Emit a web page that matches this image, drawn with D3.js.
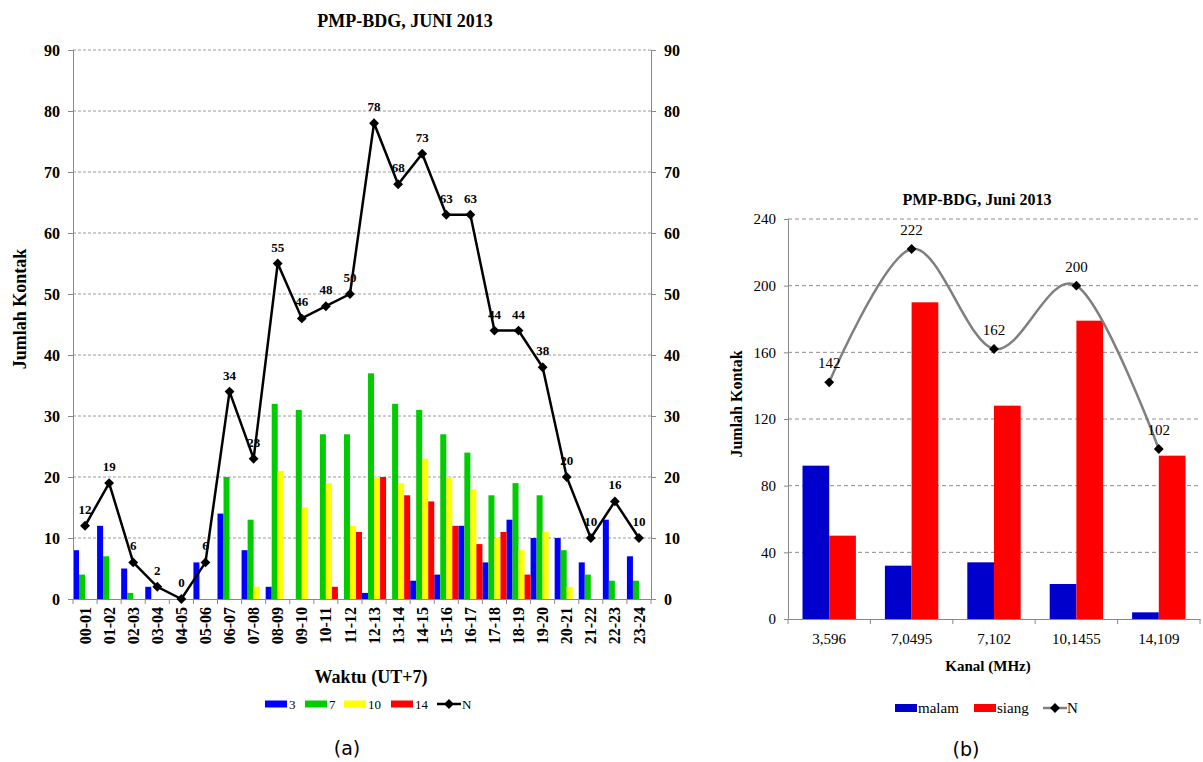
<!DOCTYPE html>
<html>
<head>
<meta charset="utf-8">
<script src="https://cdn.jsdelivr.net/npm/d3@7"></script>
<style>
  body { margin: 0; background: #fff; }
  svg { display: block; }
</style>
</head>
<body>
<div id="chart"></div>
<script>
// ---- data, chart (a): contacts per hour, per band ----
var hours = ["00-01","01-02","02-03","03-04","04-05","05-06","06-07","07-08","08-09","09-10","10-11","11-12",
             "12-13","13-14","14-15","15-16","16-17","17-18","18-19","19-20","20-21","21-22","22-23","23-24"]
var band3  = [8,12,5,2,0,6,14,8,2,0,0,0,1,0,3,4,12,6,13,10,10,6,13,7]
var band7  = [4,7,1,0,0,0,20,13,32,31,27,27,37,32,31,27,24,17,19,17,8,4,3,3]
var band10 = [0,0,0,0,0,0,0,2,21,15,19,12,20,19,23,20,18,10,8,11,2,0,0,0]
var band14 = [0,0,0,0,0,0,0,0,0,0,2,11,20,17,16,12,9,11,4,0,0,0,0,0]
var totalN = [12,19,6,2,0,6,34,23,55,46,48,50,78,68,73,63,63,44,44,38,20,10,16,10]
var seriesA = ["3","7","10","14"]
var yTicksA = [0,10,20,30,40,50,60,70,80,90]

// ---- data, chart (b): contacts per channel ----
var kanal = ["3,596","7,0495","7,102","10,1455","14,109"]
var malam = [92,32,34,21,4]
var siang = [50,190,128,179,98]
var totalKanal = [142,222,162,200,102]
var yTicksB = [0,40,80,120,160,200,240]

var d3 = window.d3
var W = 1203, H = 762
var serif = '"Liberation Serif", "Times New Roman", serif'

var svg = d3.select("#chart").append("svg")
    .attr("width", W).attr("height", H)
    .style("font-family", serif)
svg.append("rect").attr("width", W).attr("height", H).attr("fill", "#fff")

var diamond = d3.symbol().type(d3.symbolDiamond2).size(62)

// =============== chart (a) ===============
var colA = {"3": "#0000ff", "7": "#00cc00", "10": "#ffff00", "14": "#ff0000"}
var valsA = {"3": band3, "7": band7, "10": band10, "14": band14}

var aLeft = 73, aRight = 651, aTop = 50, aBottom = 599

var x = d3.scaleBand().domain(hours).range([aLeft, aRight]).padding(0)
var xs = d3.scaleBand().domain(seriesA).range([0, x.bandwidth()]).padding(0)
var y = d3.scaleLinear().domain([0, 90]).range([aBottom, aTop])

var ga = svg.append("g")

// gridlines
ga.append("g").selectAll("line")
  .data(yTicksA.filter(function(d) { return d > 0 }))
  .enter().append("line")
    .attr("x1", aLeft).attr("x2", aRight)
    .attr("y1", function(d) { return y(d) }).attr("y2", function(d) { return y(d) })
    .attr("stroke", "#9a9a9a").attr("stroke-dasharray", "3,2")

// bars
seriesA.forEach(function(s) {
  ga.append("g").selectAll("rect")
    .data(valsA[s].map(function(v, i) { return {h: hours[i], v: v} }).filter(function(d) { return d.v > 0 }))
    .enter().append("rect")
      .attr("x", function(d) { return x(d.h) + xs(s) })
      .attr("width", xs.bandwidth())
      .attr("y", function(d) { return y(d.v) })
      .attr("height", function(d) { return y(0) - y(d.v) })
      .attr("fill", colA[s])
})

// axes
var axL = ga.append("g")
    .attr("transform", "translate(" + aLeft + ",0)")
    .call(d3.axisLeft(y).tickValues(yTicksA).tickSize(5).tickPadding(8))
var axR = ga.append("g")
    .attr("transform", "translate(" + aRight + ",0)")
    .call(d3.axisRight(y).tickValues(yTicksA).tickSize(5).tickPadding(8))
;[axL, axR].forEach(function(a) {
  a.selectAll("path, line").attr("stroke", "#888")
  a.selectAll("text").style("font-family", serif).style("font-size", "16px")
    .style("font-weight", "bold").attr("fill", "#000")
})

var axB = ga.append("g")
    .attr("transform", "translate(0," + aBottom + ")")
    .call(d3.axisBottom(x).tickSize(0).tickPadding(0))
axB.select(".domain").attr("stroke", "#888")
axB.selectAll("text")
    .attr("transform", "rotate(-90)")
    .attr("x", -8).attr("y", 0).attr("dy", "0.35em")
    .style("text-anchor", "end")
    .style("font-family", serif).style("font-size", "16px")
    .style("font-weight", "bold").attr("fill", "#000")
axB.selectAll(".bound")
  .data(hours.map(function(h) { return x(h) }).concat([aRight]))
  .enter().append("line")
    .attr("class", "bound")
    .attr("x1", function(d) { return d }).attr("x2", function(d) { return d })
    .attr("y1", 0).attr("y2", 5)
    .attr("stroke", "#888")

// N line
var cxA = function(i) { return x(hours[i]) + x.bandwidth() / 2 }
var lineA = d3.line()
    .x(function(d, i) { return cxA(i) })
    .y(function(d) { return y(d) })
ga.append("path").datum(totalN)
    .attr("d", lineA).attr("fill", "none")
    .attr("stroke", "#000").attr("stroke-width", 2.5)

ga.append("g").selectAll("path")
  .data(totalN).enter().append("path")
    .attr("d", diamond)
    .attr("transform", function(d, i) { return "translate(" + cxA(i) + "," + y(d) + ")" })
    .attr("fill", "#000")

ga.append("g").selectAll("text")
  .data(totalN).enter().append("text")
    .attr("x", function(d, i) { return cxA(i) })
    .attr("y", function(d) { return y(d) - 12 })
    .attr("text-anchor", "middle")
    .style("font-size", "13px").style("font-weight", "bold")
    .text(function(d) { return d })

// titles
ga.append("text").attr("x", 405).attr("y", 27).attr("text-anchor", "middle")
    .style("font-size", "18px").style("font-weight", "bold").text("PMP-BDG, JUNI 2013")
ga.append("text").attr("transform", "translate(20,309) rotate(-90)").attr("dy", "0.35em")
    .attr("text-anchor", "middle")
    .style("font-size", "18px").style("font-weight", "bold").text("Jumlah Kontak")
ga.append("text").attr("x", 371).attr("y", 683).attr("text-anchor", "middle")
    .style("font-size", "18px").style("font-weight", "bold").text("Waktu (UT+7)")

// legend (a)
var legA = ga.append("g").attr("transform", "translate(0,704)")
var legPosA = [265, 305, 344, 391]
seriesA.forEach(function(s, i) {
  legA.append("rect").attr("x", legPosA[i]).attr("y", -3.5).attr("width", 22).attr("height", 7).attr("fill", colA[s])
  legA.append("text").attr("x", legPosA[i] + 24).attr("y", 0).attr("dy", "0.35em")
    .style("font-size", "13px").text(s)
})
legA.append("line").attr("x1", 437).attr("x2", 461).attr("y1", 0).attr("y2", 0)
    .attr("stroke", "#000").attr("stroke-width", 2.5)
legA.append("path").attr("d", diamond).attr("transform", "translate(449,0)").attr("fill", "#000")
legA.append("text").attr("x", 462).attr("y", 0).attr("dy", "0.35em").style("font-size", "13px").text("N")

svg.append("text").attr("x", 347).attr("y", 755).attr("text-anchor", "middle")
    .style("font-family", '"DejaVu Sans", sans-serif').style("font-size", "19px").text("(a)")

// =============== chart (b) ===============
var colB = {malam: "#0000cc", siang: "#ff0000"}
var bl = 788, br = 1200, bt = 219, bb = 619

var xb = d3.scaleBand().domain(kanal).range([bl, br]).paddingInner(0.352).paddingOuter(0.176)
var xbs = d3.scaleBand().domain(["malam", "siang"]).range([0, xb.bandwidth()]).padding(0)
var yb = d3.scaleLinear().domain([0, 240]).range([bb, bt])
var stepB = xb.step()

var gb = svg.append("g")

gb.append("g").selectAll("line")
  .data(yTicksB.filter(function(d) { return d > 0 }))
  .enter().append("line")
    .attr("x1", bl).attr("x2", br)
    .attr("y1", function(d) { return yb(d) }).attr("y2", function(d) { return yb(d) })
    .attr("stroke", "#8c8c8c").attr("stroke-dasharray", "4,3")

var valsB = {malam: malam, siang: siang}
;["malam", "siang"].forEach(function(s) {
  gb.append("g").selectAll("rect")
    .data(valsB[s].map(function(v, i) { return {k: kanal[i], v: v} }))
    .enter().append("rect")
      .attr("x", function(d) { return xb(d.k) + xbs(s) })
      .attr("width", xbs.bandwidth())
      .attr("y", function(d) { return yb(d.v) })
      .attr("height", function(d) { return yb(0) - yb(d.v) })
      .attr("fill", colB[s])
})

var axBL = gb.append("g")
    .attr("transform", "translate(" + bl + ",0)")
    .call(d3.axisLeft(yb).tickValues(yTicksB).tickSize(4).tickPadding(8))
axBL.selectAll("path, line").attr("stroke", "#888")
axBL.selectAll("text").style("font-family", serif).style("font-size", "15px").attr("fill", "#000")

var axBB = gb.append("g")
    .attr("transform", "translate(0," + bb + ")")
    .call(d3.axisBottom(xb).tickSize(0).tickPadding(14))
axBB.select(".domain").attr("stroke", "#888")
axBB.selectAll("text").style("font-family", serif).style("font-size", "15px").attr("fill", "#000")
axBB.selectAll(".bound")
  .data(kanal.map(function(k) { return xb(k) - stepB * 0.176 }).concat([br]))
  .enter().append("line")
    .attr("class", "bound")
    .attr("x1", function(d) { return d }).attr("x2", function(d) { return d })
    .attr("y1", 0).attr("y2", 5)
    .attr("stroke", "#888")

var cxB = function(i) { return xb(kanal[i]) + xb.bandwidth() / 2 }
var lineB = d3.line()
    .x(function(d, i) { return cxB(i) })
    .y(function(d) { return yb(d) })
    .curve(d3.curveCardinal.tension(0))
gb.append("path").datum(totalKanal)
    .attr("d", lineB).attr("fill", "none")
    .attr("stroke", "#7f7f7f").attr("stroke-width", 2.5)

gb.append("g").selectAll("path")
  .data(totalKanal).enter().append("path")
    .attr("d", diamond)
    .attr("transform", function(d, i) { return "translate(" + cxB(i) + "," + yb(d) + ")" })
    .attr("fill", "#000")

gb.append("g").selectAll("text")
  .data(totalKanal).enter().append("text")
    .attr("x", function(d, i) { return cxB(i) })
    .attr("y", function(d) { return yb(d) - 14 })
    .attr("text-anchor", "middle")
    .style("font-size", "15px")
    .text(function(d) { return d })

gb.append("text").attr("x", 977).attr("y", 205).attr("text-anchor", "middle")
    .style("font-size", "16px").style("font-weight", "bold").text("PMP-BDG, Juni 2013")
gb.append("text").attr("transform", "translate(736,404) rotate(-90)").attr("dy", "0.35em")
    .attr("text-anchor", "middle")
    .style("font-size", "16px").style("font-weight", "bold").text("Jumlah Kontak")
gb.append("text").attr("x", 988).attr("y", 671).attr("text-anchor", "middle")
    .style("font-size", "15px").style("font-weight", "bold").text("Kanal (MHz)")

var legB = gb.append("g").attr("transform", "translate(0,708)")
legB.append("rect").attr("x", 895).attr("y", -4).attr("width", 22).attr("height", 8).attr("fill", colB.malam)
legB.append("text").attr("x", 918).attr("y", 0).attr("dy", "0.35em").style("font-size", "15px").text("malam")
legB.append("rect").attr("x", 974).attr("y", -4).attr("width", 22).attr("height", 8).attr("fill", colB.siang)
legB.append("text").attr("x", 997).attr("y", 0).attr("dy", "0.35em").style("font-size", "15px").text("siang")
legB.append("line").attr("x1", 1043).attr("x2", 1067).attr("y1", 0).attr("y2", 0)
    .attr("stroke", "#7f7f7f").attr("stroke-width", 2.5)
legB.append("path").attr("d", diamond).attr("transform", "translate(1055,0)").attr("fill", "#000")
legB.append("text").attr("x", 1067).attr("y", 0).attr("dy", "0.35em").style("font-size", "15px").text("N")

svg.append("text").attr("x", 966).attr("y", 756).attr("text-anchor", "middle")
    .style("font-family", '"DejaVu Sans", sans-serif').style("font-size", "19px").text("(b)")
</script>
</body>
</html>
